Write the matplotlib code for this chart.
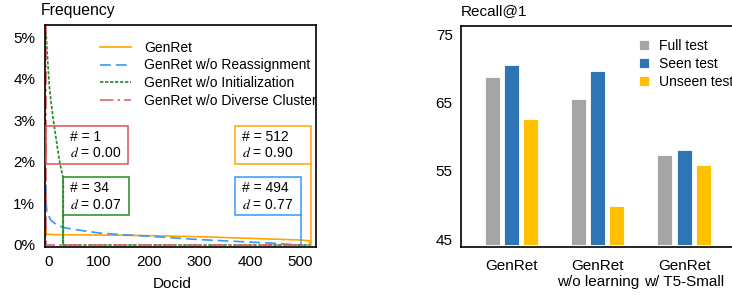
import matplotlib
matplotlib.use("Agg")
import matplotlib.pyplot as plt
from matplotlib.patches import Rectangle

plt.rcParams['font.family'] = ['Liberation Sans', 'DejaVu Sans']
plt.rcParams['mathtext.fontset'] = 'stix'

# ---------------- data ----------------
genret_x = [-4.6, -4, -3, 0, 10, 50, 100, 150, 200, 300, 400, 450, 500, 519, 519]
genret_y = [0.45, 0.30, 0.27, 0.26, 0.25, 0.245, 0.24, 0.235, 0.225, 0.20, 0.16, 0.14, 0.12, 0.10, 0.0]

reassign_x = [-4.6, -4, -3, 0, 5, 15, 30, 60, 100, 150, 200, 250, 300, 350, 400, 450, 500]
reassign_y = [1.45, 1.0, 0.85, 0.72, 0.6, 0.5, 0.42, 0.36, 0.29, 0.245, 0.21, 0.17, 0.13, 0.10, 0.07, 0.04, 0.0]

init_x = [-4.6, -3, 0, 2, 5, 9, 13, 18, 23, 29.8, 29.8, 520]
init_y = [5.15, 4.8, 4.2, 3.85, 3.5, 3.1, 2.77, 2.35, 1.97, 1.6, 0.0, 0.0]

diverse_x = [-4.6, -4.6, 520]
diverse_y = [100.0, 0.0, 0.0]

series_labels = ['GenRet', 'GenRet w/o Reassignment', 'GenRet w/o Initialization',
                 'GenRet w/o Diverse Cluster']

box_counts = [1, 34, 512, 494]
box_d = ['0.00', '0.07', '0.90', '0.77']

xticks_left = [0, 100, 200, 300, 400, 500]
yticks_left = [0, 1, 2, 3, 4, 5]

categories = ['GenRet', 'GenRet\nw/o learning', 'GenRet\nw/ T5-Small']
full_test = [68.7, 65.6, 57.3]
seen_test = [70.5, 69.6, 58.0]
unseen_test = [62.6, 49.9, 55.9]
bar_labels = ['Full test', 'Seen test', 'Unseen test']
yticks_right = [45, 55, 65, 75]

# ---------------- colours ----------------
c_orange = '#FFA500'
c_blue = '#3399FF'
c_green = '#228B22'
c_red = '#E06666'
c_red_box = '#D95555'
bar_colors = ['#A5A5A5', '#2E75B6', '#FFC000']

W, H = 732, 296
fig = plt.figure(figsize=(W / 100, H / 100), dpi=100)

def ax_rect(l, r, t, b):
    return [l / W, 1 - b / H, (r - l) / W, (b - t) / H]

# ---------------- left chart ----------------
ax = fig.add_axes(ax_rect(45, 316, 25, 246.7))
lw = 1.2
ax.plot(genret_x, genret_y, color=c_orange, lw=lw, label=series_labels[0])
ax.plot(reassign_x, reassign_y, color=c_blue, lw=lw, dashes=(6.5, 3), label=series_labels[1])
ax.plot(init_x, init_y, color=c_green, lw=lw, dashes=(2, 1), label=series_labels[2])
ax.plot(diverse_x, diverse_y, color=c_red, lw=lw, dashes=(8, 2.5, 1.5, 2.5), label=series_labels[3])

ax.set_xlim(-6.5, 531)
ax.set_ylim(-0.041, 5.30)
ax.set_xticks(xticks_left)
ax.set_yticks(yticks_left)
ax.set_yticklabels([f'{v}%' for v in yticks_left])
ax.tick_params(length=0, labelsize=11)
ax.tick_params(axis='y', pad=7)
ax.tick_params(axis='x', pad=6)
for s in ax.spines.values():
    s.set_linewidth(1.2)

# annotation boxes: (x0, x1, y0, y1, colour, text x)
boxes = [(-4.6, 159, 1.95, 2.86, c_red_box, 44),
         (29.8, 160.7, 0.72, 1.63, c_green, 43),
         (370.4, 520.6, 1.95, 2.86, c_orange, 383.7),
         (370.4, 500.8, 0.72, 1.63, c_blue, 383.7)]
for (x0, x1, y0, y1, col, tx), n, d in zip(boxes, box_counts, box_d):
    ax.add_patch(Rectangle((x0, y0), x1 - x0, y1 - y0, fill=False, edgecolor=col, lw=1.1, zorder=5))
    ax.text(tx, y0 + (y1 - y0) * 0.72, f'# = {n}', fontsize=10, va='center', ha='left', zorder=6)
    ax.text(tx, y0 + (y1 - y0) * 0.28, f'$d$ = {d}', fontsize=10, va='center', ha='left', zorder=6)
# connectors from boxes down to the axis
ax.plot([29.8, 29.8], [0.72, 0], color=c_green, lw=1.1)
ax.plot([500.8, 500.8], [0.72, 0], color=c_blue, lw=1.1)
ax.plot([520.6, 520.6], [1.95, 0], color=c_orange, lw=1.1)

ax.set_xlabel('Docid', fontsize=11)
ax.xaxis.set_label_coords(0.469, -0.135)
fig.text(40.7 / W, 1 - 11 / H, 'Frequency', fontsize=11.3, va='center', ha='left')

ax.legend(loc='upper left', bbox_to_anchor=(0.203, 0.93), frameon=False,
          fontsize=10, handlelength=2.2, handletextpad=0.95, labelspacing=0.28,
          borderpad=0, borderaxespad=0)

# ---------------- right chart ----------------
ax2 = fig.add_axes(ax_rect(461, 734.5, 25.7, 246.7))
base = 44.2
width = 0.175
offsets = [-0.223, 0.0, 0.22]
for vals, off, col, lab in zip([full_test, seen_test, unseen_test], offsets, bar_colors, bar_labels):
    xs = [i + off for i in range(len(categories))]
    ax2.bar(xs, [v - base for v in vals], bottom=base, width=width, color=col,
            edgecolor='white', linewidth=0.6, label=lab)
ax2.set_xlim(-0.584, 2.584)
ax2.set_ylim(43.92, 76.26)
ax2.set_yticks(yticks_right)
ax2.set_xticks(range(len(categories)))
ax2.set_xticklabels(categories, fontsize=11, linespacing=1.12)
ax2.tick_params(length=0, labelsize=11)
ax2.tick_params(axis='y', pad=6)
ax2.tick_params(axis='x', pad=9)
for s in ax2.spines.values():
    s.set_linewidth(1.2)
fig.text(461 / W, 1 - 11 / H, 'Recall@1', fontsize=11, va='center', ha='left')
ax2.legend(loc='upper left', bbox_to_anchor=(0.649, 0.94), frameon=False, fontsize=10,
           handlelength=0.72, handleheight=0.72, handletextpad=0.72, labelspacing=0.3,
           borderpad=0, borderaxespad=0)

fig.savefig('out.png', dpi=100)
